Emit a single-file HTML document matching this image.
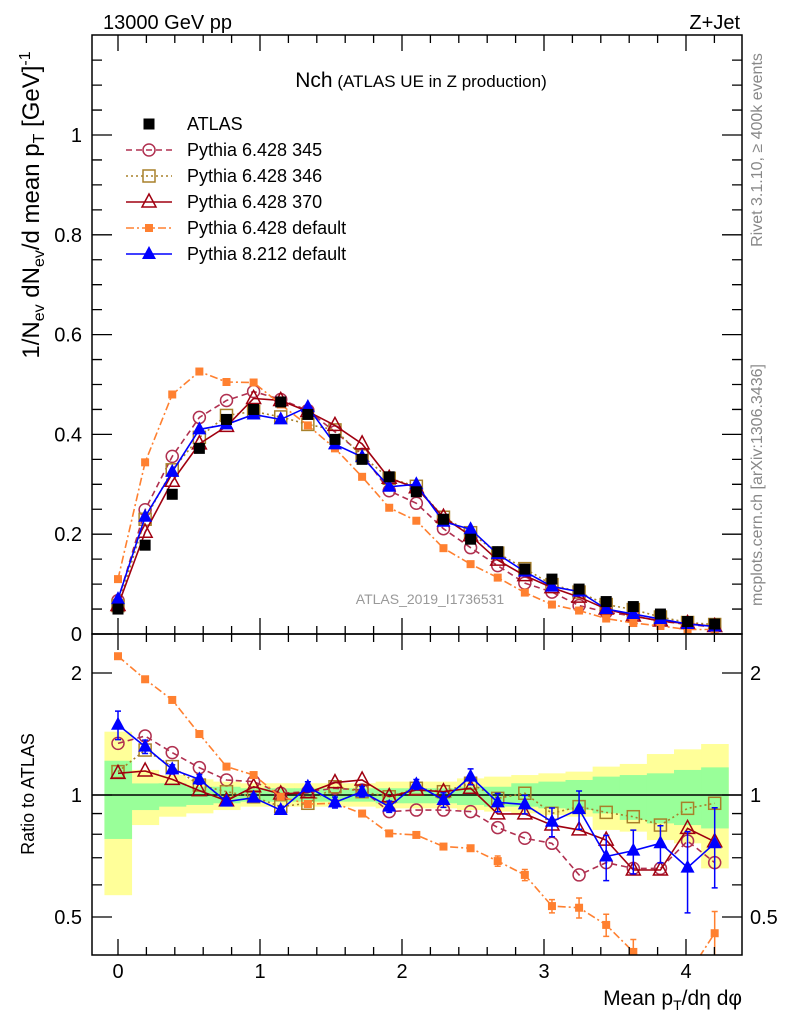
<!DOCTYPE html>
<html><head><meta charset="utf-8"><style>
body{margin:0;background:#fff;font-family:"Liberation Sans",sans-serif;}
svg text{font-family:"Liberation Sans",sans-serif;}
</style></head><body>
<svg id="c" width="786" height="1024" viewBox="0 0 786 1024">
<text x="103" y="29" font-size="20">13000 GeV pp</text>
<text x="740" y="29" font-size="20" text-anchor="end">Z+Jet</text>
<text x="421" y="87" text-anchor="middle"><tspan font-size="21">Nch</tspan><tspan font-size="17"> (ATLAS UE in Z production)</tspan></text>
<text x="430" y="604" font-size="14" fill="#999" text-anchor="middle">ATLAS_2019_I1736531</text>
<text transform="translate(762,150) rotate(-90)" font-size="16" fill="#888" text-anchor="middle">Rivet 3.1.10, ≥ 400k events</text>
<text transform="translate(762,485) rotate(-90)" font-size="16" fill="#888" text-anchor="middle">mcplots.cern.ch [arXiv:1306.3436]</text>
<text transform="translate(39,205) rotate(-90)" font-size="24" text-anchor="middle">1/N<tspan font-size="16" dy="5">ev</tspan><tspan dy="-5"> dN</tspan><tspan font-size="16" dy="5">ev</tspan><tspan dy="-5">/d mean p</tspan><tspan font-size="16" dy="5">T</tspan><tspan dy="-5">  [GeV]</tspan><tspan font-size="16" dy="-9">-1</tspan></text>
<text transform="translate(34,794) rotate(-90)" font-size="18" text-anchor="middle">Ratio to ATLAS</text>
<text x="742" y="1005" font-size="21" text-anchor="end">Mean p<tspan font-size="14" dy="5">T</tspan><tspan dy="-5">/dη dφ</tspan></text>
<g id="bands"></g><g id="series"></g><g id="axes"></g><g id="legend"></g>
</svg>
<script>
const xs=[0,0.191,0.382,0.573,0.764,0.955,1.146,1.337,1.528,1.719,1.91,2.101,2.292,2.483,2.674,2.865,3.056,3.247,3.438,3.629,3.82,4.011,4.202];
const atlas=[0.05,0.178,0.28,0.372,0.43,0.45,0.465,0.44,0.39,0.35,0.315,0.285,0.23,0.19,0.165,0.13,0.11,0.09,0.065,0.055,0.04,0.025,0.02];
const p345=[0.067,0.249,0.356,0.434,0.468,0.486,0.47,0.448,0.405,0.36,0.287,0.262,0.211,0.173,0.137,0.102,0.084,0.057,0.044,0.036,0.026,0.019,0.014];
const p346=[0.057,0.23,0.329,0.394,0.438,0.446,0.435,0.42,0.409,0.357,0.312,0.296,0.234,0.203,0.162,0.131,0.099,0.084,0.059,0.049,0.034,0.023,0.019];
const p370=[0.057,0.204,0.306,0.381,0.416,0.472,0.468,0.446,0.418,0.381,0.312,0.293,0.234,0.197,0.148,0.117,0.093,0.074,0.05,0.036,0.026,0.021,0.015];
const p6def=[0.11,0.344,0.48,0.526,0.505,0.504,0.46,0.418,0.372,0.315,0.253,0.227,0.172,0.14,0.113,0.083,0.059,0.047,0.031,0.022,0.016,0.009,0.009];
const p8def=[0.07,0.235,0.325,0.41,0.42,0.44,0.43,0.455,0.38,0.355,0.295,0.30,0.225,0.21,0.16,0.125,0.095,0.085,0.05,0.04,0.03,0.02,0.015];
const r345=[1.341,1.398,1.272,1.168,1.089,1.079,1.01,1.019,1.039,1.029,0.91,0.918,0.918,0.91,0.831,0.782,0.76,0.635,0.681,0.659,0.659,0.77,0.681];
const r346=[1.142,1.291,1.175,1.058,1.019,0.99,0.936,0.954,1.048,1.019,0.99,1.039,1.019,1.069,0.981,1.01,0.901,0.936,0.906,0.884,0.843,0.927,0.954];
const r370=[1.131,1.146,1.093,1.025,0.968,1.048,1.006,1.013,1.073,1.089,0.991,1.029,1.019,1.039,0.898,0.898,0.843,0.82,0.774,0.653,0.653,0.827,0.767];
const r6def=[2.2,1.93,1.716,1.414,1.175,1.12,0.99,0.95,0.954,0.9,0.804,0.797,0.746,0.739,0.687,0.635,0.532,0.527,0.478,0.41,0.36,0.33,0.456];
const r8def=[1.49,1.316,1.157,1.093,0.963,0.985,0.918,1.048,0.959,1.019,0.936,1.062,0.972,1.11,0.959,0.948,0.859,0.923,0.705,0.729,0.76,0.662,0.76];
const r8err=[0.12,0.05,0.03,0.03,0.02,0.02,0.02,0.03,0.03,0.03,0.03,0.03,0.04,0.05,0.05,0.05,0.07,0.1,0.09,0.09,0.08,0.15,0.17];
const r6err=[0.03,0.01,0.01,0.01,0.01,0.01,0.01,0.01,0.01,0.01,0.01,0.01,0.01,0.01,0.02,0.02,0.02,0.03,0.03,0.03,0.03,0.04,0.06];
const yUp=[1.433,1.153,1.12,1.093,1.079,1.069,1.069,1.069,1.069,1.069,1.079,1.079,1.079,1.099,1.11,1.12,1.131,1.142,1.175,1.193,1.262,1.296,1.336];
const yLo=[0.566,0.843,0.884,0.901,0.918,0.936,0.936,0.936,0.936,0.936,0.927,0.927,0.927,0.918,0.91,0.901,0.893,0.884,0.82,0.812,0.774,0.76,0.659];
const gUp=[1.215,1.068,1.069,1.048,1.048,1.039,1.039,1.039,1.039,1.039,1.039,1.039,1.039,1.048,1.048,1.069,1.079,1.089,1.11,1.12,1.131,1.153,1.17];
const gLo=[0.779,0.918,0.936,0.945,0.954,0.963,0.963,0.963,0.963,0.963,0.954,0.954,0.954,0.945,0.936,0.936,0.927,0.918,0.901,0.868,0.851,0.843,0.827];
const mainTicks=["0","0.2","0.4","0.6","0.8","1"];
const ratioTicks=["0.5","1","2"];
const xTicks=["0","1","2","3","4"];

const NS="http://www.w3.org/2000/svg";
const L=92,R=742,T=35,MB=634,RB=955;
const X=v=>118+v*142;
const YM=v=>634-v*499;
const YR=v=>Math.min(RB+20,795-Math.log2(v)*122);
function el(tag,attrs,parent){const e=document.createElementNS(NS,tag);for(const k in attrs)e.setAttribute(k,attrs[k]);parent.appendChild(e);return e;}
const svg=document.getElementById('c');
const G={bands:document.getElementById('bands'),series:document.getElementById('series'),axes:document.getElementById('axes'),legend:document.getElementById('legend')};
const defs=el('defs',{},svg);
const c1=el('clipPath',{id:'cm'},defs);el('rect',{x:L,y:T,width:R-L,height:MB-T},c1);
const c2=el('clipPath',{id:'cr'},defs);el('rect',{x:L,y:MB,width:R-L,height:RB-MB},c2);
const hw=0.0955;
function band(up,lo,color,name){
  for(let i=0;i<xs.length;i++){
    const r=el('rect',{x:X(xs[i]-hw),y:YR(up[i]),width:X(xs[i]+hw)-X(xs[i]-hw)+0.5,height:YR(lo[i])-YR(up[i]),fill:color},G.bands);
    
    
  }
}
band(yUp,yLo,'#ffff99','ratio-total-uncertainty-band');
band(gUp,gLo,'#99ff99','ratio-stat-uncertainty-band');
const ref=el('line',{x1:L,x2:R,y1:YR(1),y2:YR(1),stroke:'#000','stroke-width':1.5},G.bands);



function marker(type,x,y,color,g){
  let m;
  if(type==='sqf')m=el('rect',{x:x-5.5,y:y-5.5,width:11,height:11,fill:color},g);
  else if(type==='sqs')m=el('rect',{x:x-4,y:y-4,width:8,height:8,fill:color},g);
  else if(type==='sqo')m=el('rect',{x:x-6,y:y-6,width:12,height:12,fill:'none',stroke:color,'stroke-width':1.5},g);
  else if(type==='ci')m=el('circle',{cx:x,cy:y,r:6,fill:'none',stroke:color,'stroke-width':1.5},g);
  else if(type==='tro')m=el('polygon',{points:`${x},${y-8} ${x-7},${y+5} ${x+7},${y+5}`,fill:'none',stroke:color,'stroke-width':1.5},g);
  else if(type==='trf')m=el('polygon',{points:`${x},${y-8} ${x-7},${y+5} ${x+7},${y+5}`,fill:color},g);
  return m;
}
const specs=[
 {name:'pythia6-345',main:p345,ratio:r345,color:'#b03050',dash:'6,4',mk:'ci'},
 {name:'pythia6-346',main:p346,ratio:r346,color:'#a8802a',dash:'2,3',mk:'sqo'},
 {name:'pythia6-370',main:p370,ratio:r370,color:'#a00010',dash:'',mk:'tro'},
 {name:'pythia6-default',main:p6def,ratio:r6def,color:'#ff8030',dash:'8,3,2,3',mk:'sqs',err:r6err},
 {name:'pythia8-default',main:p8def,ratio:r8def,color:'#0000ff',dash:'',mk:'trf',err:r8err},
];
specs.forEach(s=>{
  const gm=el('g',{'clip-path':'url(#cm)'},G.series);
  
  
  const p=el('polyline',{points:xs.map((x,i)=>X(x)+','+YM(s.main[i])).join(' '),fill:'none',stroke:s.color,'stroke-width':1.6,'stroke-dasharray':s.dash},gm);
  
  
  xs.forEach((x,i)=>{const m=marker(s.mk,X(x),YM(s.main[i]),s.color,gm);
    
    });
  const gr=el('g',{'clip-path':'url(#cr)'},G.series);
  
  
  const pr=el('polyline',{points:xs.map((x,i)=>X(x)+','+YR(s.ratio[i])).join(' '),fill:'none',stroke:s.color,'stroke-width':1.6,'stroke-dasharray':s.dash},gr);
  
  
  xs.forEach((x,i)=>{
    if(s.err){const e=el('path',{d:`M${X(x)},${YR(s.ratio[i]+s.err[i])}V${YR(s.ratio[i]-s.err[i])}M${X(x)-3},${YR(s.ratio[i]+s.err[i])}h6M${X(x)-3},${YR(s.ratio[i]-s.err[i])}h6`,stroke:s.color,'stroke-width':1.5,fill:'none'},gr);
      
      }
    const m=marker(s.mk,X(x),YR(s.ratio[i]),s.color,gr);
    
    });
});
const ga=el('g',{'clip-path':'url(#cm)'},G.series);


xs.forEach((x,i)=>{const m=marker('sqf',X(x),YM(atlas[i]),'#000',ga);
  
  });

[[T,MB],[MB,RB]].forEach(([t,b],k)=>{const r=el('rect',{x:L,y:t,width:R-L,height:b-t,fill:'none',stroke:'#000','stroke-width':1.5},G.axes);
  
  });
let tk='';
for(let v=-0.2;v<=4.4;v+=0.2){const x=X(Math.round(v*10)/10);if(x<L||x>R)continue;const maj=Math.abs(v-Math.round(v))<0.01;const len=maj?16:8;
  tk+=`M${x},${MB}v${-len}M${x},${T}v${len}M${x},${RB}v${-len}M${x},${MB}v${len}`;}
for(let v=0;v<=1.2;v+=0.05){const y=YM(v);if(y<T)continue;const maj=Math.abs(v*5-Math.round(v*5))<0.01;const len=maj?20:10;
  tk+=`M${L},${y}h${len}M${R},${y}h${-len}`;}
[0.5,0.6,0.7,0.8,0.9,1,2].forEach(v=>{const y=YR(v);const maj=(v===0.5||v===1||v===2);const len=maj?20:10;tk+=`M${L},${y}h${len}M${R},${y}h${-len}`;});
const tp=el('path',{d:tk,stroke:'#000','stroke-width':1.3,fill:'none'},G.axes);


mainTicks.forEach(t=>{const e=el('text',{x:L-10,y:YM(+t)+7,'font-size':20,'text-anchor':'end'},G.axes);e.textContent=t;
  
  });
ratioTicks.forEach(t=>{[[L-10,'end'],[R+8,'start']].forEach(([x,a])=>{const e=el('text',{x:x,y:YR(+t)+7,'font-size':20,'text-anchor':a},G.axes);e.textContent=t;
  
  });});
xTicks.forEach(t=>{const e=el('text',{x:X(+t),y:978,'font-size':20,'text-anchor':'middle'},G.axes);e.textContent=t;
  
  });
const leg=[['ATLAS','#000','','sqf'],['Pythia 6.428 345','#b03050','6,4','ci'],['Pythia 6.428 346','#a8802a','2,3','sqo'],['Pythia 6.428 370','#a00010','','tro'],['Pythia 6.428 default','#ff8030','8,3,2,3','sqs'],['Pythia 8.212 default','#0000ff','','trf']];
leg.forEach((l,i)=>{const y=124+i*26;const g=el('g',{},G.legend);
  
  
  if(i>0)el('line',{x1:126,x2:172,y1:y,y2:y,stroke:l[1],'stroke-width':1.5,'stroke-dasharray':l[2]},g);
  marker(l[3],149,y,l[1],g);
  const t=el('text',{x:187,y:y+6,'font-size':18},g);t.textContent=l[0];});
</script>
</body></html>
